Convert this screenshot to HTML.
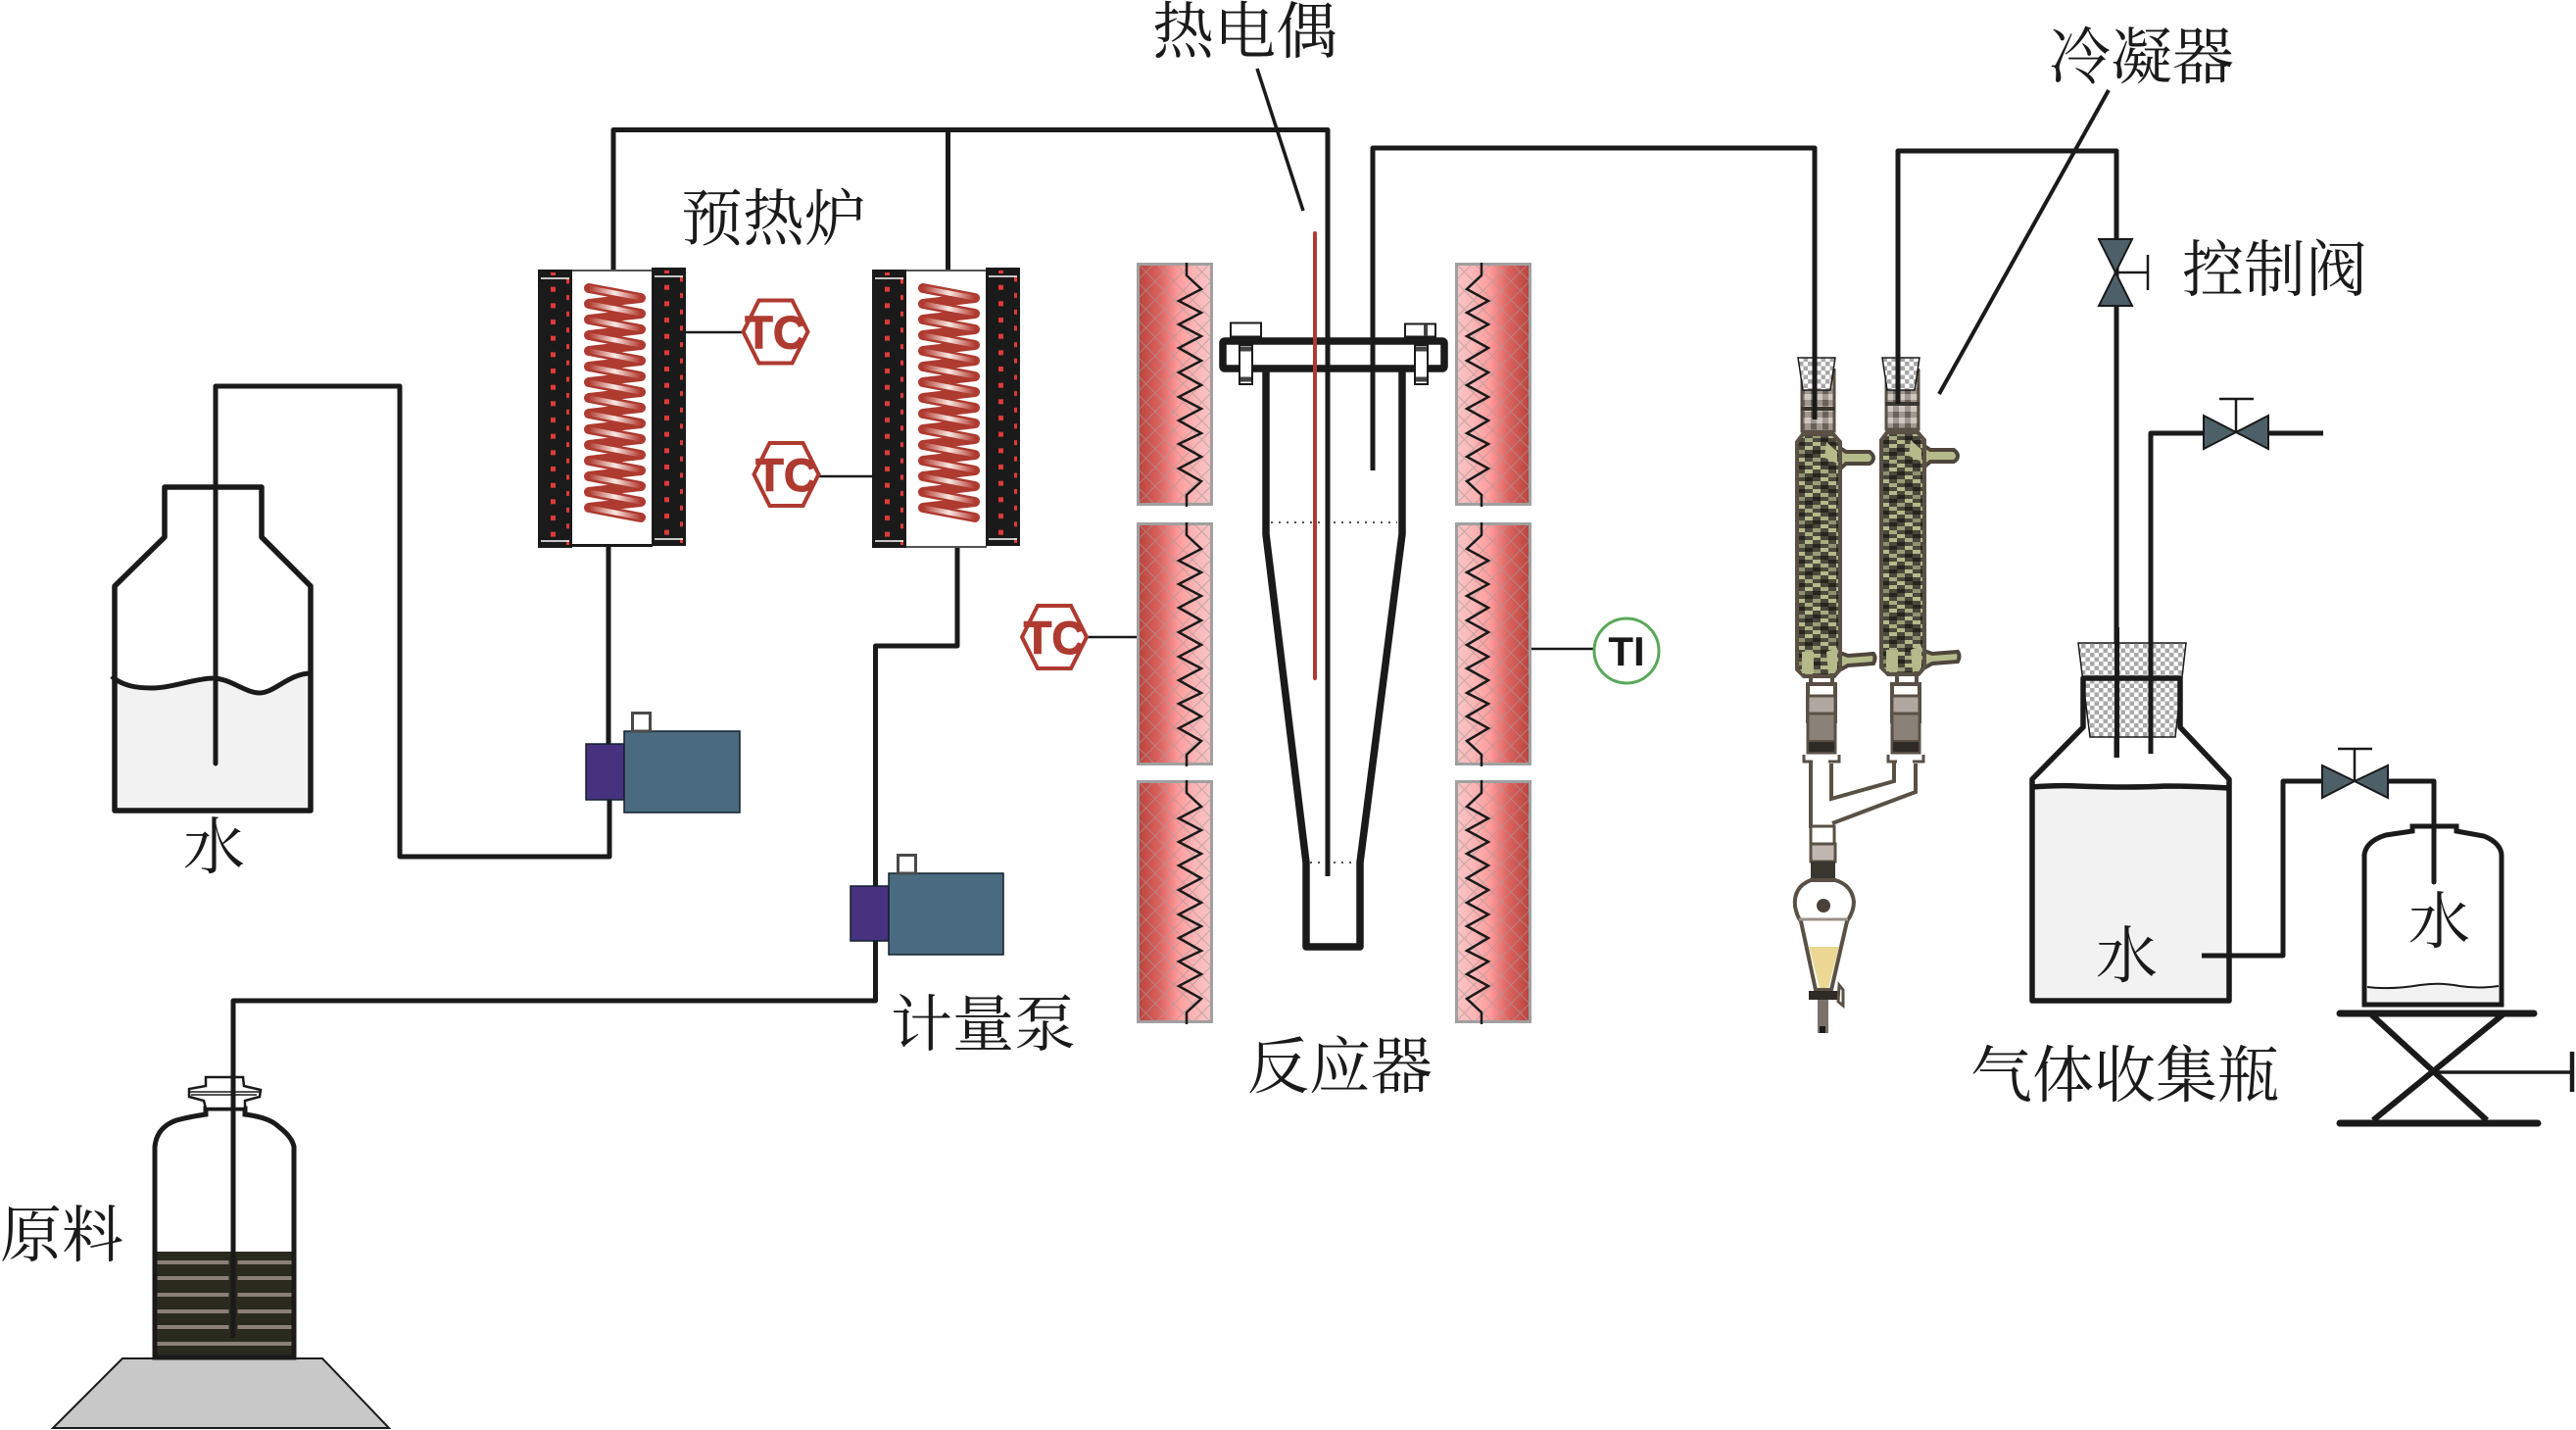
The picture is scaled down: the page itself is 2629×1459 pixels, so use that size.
<!DOCTYPE html>
<html lang="zh"><head><meta charset="utf-8"><title>Diagram</title>
<style>html,body{margin:0;padding:0;background:#fff}svg{display:block}
.l{font-family:"Liberation Serif","Noto Serif CJK SC",serif;font-size:63px;fill:#1a1a1a}
.tc{font-family:"Liberation Sans",sans-serif;font-weight:bold;font-size:47px;fill:#ae3a30;stroke:#ae3a30;stroke-width:1;text-anchor:middle}
</style></head><body>
<svg xmlns="http://www.w3.org/2000/svg" width="2629" height="1459" viewBox="0 0 2629 1459">
<defs>
<pattern id="dots" patternUnits="userSpaceOnUse" width="40" height="33.33">
<rect x="13" y="1" width="5" height="5" fill="#e03a3a"/><rect x="13" y="17.700" width="5" height="5" fill="#e03a3a"/>
<rect x="29" y="9.500" width="3" height="5" fill="#e03a3a"/><rect x="29" y="26" width="3" height="5" fill="#e03a3a"/>
</pattern>
<pattern id="check" patternUnits="userSpaceOnUse" width="9" height="9">
<rect width="9" height="9" fill="#fff"/><rect width="4.500" height="4.500" fill="#a8a8a8"/><rect x="4.500" y="4.500" width="4.500" height="4.500" fill="#a8a8a8"/>
</pattern>
<pattern id="cond" patternUnits="userSpaceOnUse" width="32" height="24">
<rect width="32" height="24" fill="#4a483c"/>
<rect x="0" y="0" width="8" height="4" fill="#b4ba8a"/><rect x="16" y="0" width="8" height="4" fill="#9a9e78"/>
<rect x="8" y="4" width="8" height="4" fill="#a8ac80"/><rect x="24" y="4" width="8" height="4" fill="#26261e"/>
<rect x="0" y="8" width="8" height="4" fill="#26261e"/><rect x="16" y="8" width="8" height="4" fill="#b4ba8a"/>
<rect x="8" y="12" width="8" height="4" fill="#b4ba8a"/><rect x="24" y="12" width="8" height="4" fill="#a8ac80"/>
<rect x="0" y="16" width="8" height="4" fill="#8e9270"/><rect x="16" y="16" width="8" height="4" fill="#26261e"/>
<rect x="8" y="20" width="8" height="4" fill="#26261e"/><rect x="24" y="20" width="8" height="4" fill="#b4ba8a"/>
</pattern>
<pattern id="jt" patternUnits="userSpaceOnUse" width="12" height="12">
<rect width="12" height="12" fill="#a09890"/><rect width="6" height="6" fill="#6a6258"/><rect x="6" y="6" width="6" height="6" fill="#cfc8c0"/>
</pattern>
<pattern id="hatch" patternUnits="userSpaceOnUse" width="19" height="19">
<path d="M0,0L19,19M19,0L0,19" stroke="#a89898" stroke-width="1" opacity=".65" fill="none"/>
</pattern>
<linearGradient id="hl"><stop offset="0" stop-color="#b8423c"/><stop offset=".3" stop-color="#dc6460"/><stop offset=".55" stop-color="#ff9c9c"/><stop offset=".8" stop-color="#fbb8b8"/><stop offset="1" stop-color="#f8c4c4"/></linearGradient>
<linearGradient id="hr"><stop offset="0" stop-color="#f8c4c4"/><stop offset=".2" stop-color="#fbb8b8"/><stop offset=".45" stop-color="#ff9c9c"/><stop offset=".7" stop-color="#dc6460"/><stop offset="1" stop-color="#b8423c"/></linearGradient>
<linearGradient id="coilg" gradientUnits="userSpaceOnUse" x1="0" y1="0" x2="53" y2="0"><stop offset="0" stop-color="#b03a30"/><stop offset=".5" stop-color="#fbe8e4"/><stop offset="1" stop-color="#b03a30"/></linearGradient>
<g id="coil" fill="none" stroke-linejoin="round" stroke-linecap="round">
<path stroke="#ae3a30" stroke-width="10" d="M0,0L53,10L0,16L53,26L0,32L53,42L0,48L53,58L0,64L53,74L0,80L53,90L0,96L53,106L0,112L53,122L0,128L53,138L0,144L53,154L0,160L53,170L0,176L53,186L0,192L53,202L0,208L53,218L0,224L53,234"/>
<path stroke="url(#coilg)" stroke-width="5" d="M0,0L53,10M0,16L53,26M0,32L53,42M0,48L53,58M0,64L53,74M0,80L53,90M0,96L53,106M0,112L53,122M0,128L53,138M0,144L53,154M0,160L53,170M0,176L53,186M0,192L53,202M0,208L53,218M0,224L53,234"/>
</g>
<g id="strip"><rect width="35" height="284" fill="#1a1a1a"/><rect y="3" width="35" height="278" fill="url(#dots)"/>
<path d="M3,9H32M3,277H32" stroke="#fff" stroke-width="1.500"/></g>
<g id="bl"><rect x="1.500" y="1.500" width="75" height="245" fill="url(#hl)" stroke="#a0a0a0" stroke-width="3"/><rect x="3" y="3" width="72" height="242" fill="url(#hatch)"/>
<polyline fill="none" stroke="#1a1a1a" stroke-width="2.500" points="51,0 51,13 66,27 43,39 66,51 43,63 66,75 43,87 66,100 43,112 66,125 43,137 66,149 43,161 66,174 43,185 66,198 43,210 66,223 51,237 51,249"/></g>
<g id="br"><rect x="1.500" y="1.500" width="75" height="245" fill="url(#hr)" stroke="#a0a0a0" stroke-width="3"/><rect x="3" y="3" width="72" height="242" fill="url(#hatch)"/>
<polyline fill="none" stroke="#1a1a1a" stroke-width="2.500" points="27,0 27,13 12,27 34,39 12,51 34,63 12,75 34,87 12,100 34,112 12,125 34,137 12,149 34,161 12,174 34,185 12,198 34,210 12,223 27,237 27,249"/></g>
<polygon id="hex" points="-33,0 -17,-32 17,-32 33,0 17,32 -17,32" fill="#fff" stroke="#ae3a30" stroke-width="4"/>
<g id="condb">
<path d="M41,12L50,18H74Q78,21 78,24Q78,28 74,30H50L41,38Z" fill="#b4ba8a" stroke="#4e463c" stroke-width="4"/>
<path d="M41,222L52,226L78,224Q81,228 78,234L52,236L41,242Z" fill="#b4ba8a" stroke="#4e463c" stroke-width="4"/>
<path d="M6,0H37L44,8V240L38,247H7L0,240V8Z" fill="url(#cond)" stroke="#5a5045" stroke-width="4"/>
<path d="M30,8L41,18L41,30L28,24Z" fill="#b4ba8a"/>
<path d="M30,222L41,218V240L32,245Z" fill="#b4ba8a"/>
<rect x="5" y="222" width="12" height="22" fill="#b4ba8a"/>
</g>
<g id="joint" stroke="#5a5045">
<rect x="0" y="-50" width="28" height="38" fill="#fff" stroke-width="4"/>
<rect x="0" y="-38" width="28" height="18" fill="#b0a8a0" stroke-width="3"/>
<rect x="0" y="-20" width="28" height="40" fill="#8a8278" stroke-width="3"/>
<rect x="0" y="8" width="28" height="12" fill="#2e2a26" stroke-width="2"/>
</g>
</defs>
<rect width="2629" height="1459" fill="#fff"/>

<!-- pipes -->
<g fill="none" stroke="#1a1a1a" stroke-width="5" stroke-linejoin="round">
<path d="M626,277V132.500H1355V894"/>
<path d="M967.500,132.500V277"/>
<path d="M1401,480V151H1852V428"/>
<path d="M1937,412V154H2160V773"/>
<path d="M2195,769V442H2250"/>
<path d="M2314,442H2371"/>
<path d="M220,779V394H408V874H622V811"/>
<path d="M621,556V760"/>
<path d="M977,556V659H893.500V904"/>
<path d="M893.500,958V1021H238V1363"/>
<path d="M2435,797H2484V900"/>
</g>
<path d="M1283,70L1330,215" stroke="#1a1a1a" stroke-width="3.500"/>
<path d="M2152,92L1979,402" stroke="#1a1a1a" stroke-width="4"/>

<!-- furnace 1 -->
<rect x="584" y="275" width="82" height="283" fill="#fff"/>
<path d="M584,276H666" stroke="#1a1a1a" stroke-width="1.500"/>
<path d="M584,556.500H666" stroke="#1a1a1a" stroke-width="3"/>
<use href="#strip" x="549" y="275"/><use href="#strip" x="665" y="273"/>
<use href="#coil" x="601" y="294"/>
<!-- furnace 2 -->
<rect x="925" y="275" width="82" height="284" fill="#fff"/>
<path d="M925,276H1007" stroke="#1a1a1a" stroke-width="1.500"/>
<path d="M925,558H1007" stroke="#1a1a1a" stroke-width="1.500"/>
<use href="#strip" x="890" y="275"/><use href="#strip" x="1006" y="273"/>
<use href="#coil" x="942" y="294"/>

<!-- TC / TI -->
<path d="M698,339H758M836,486H891M1109,650H1160M1562,662H1626" stroke="#1a1a1a" stroke-width="2.500"/>
<use href="#hex" x="791.500" y="338.500"/><text class="tc" x="791.500" y="355.500">TC</text>
<use href="#hex" x="802.500" y="484"/><text class="tc" x="802.500" y="501">TC</text>
<use href="#hex" x="1076" y="650"/><text class="tc" x="1076" y="667">TC</text>
<circle cx="1660" cy="664" r="33" fill="#fff" stroke="#5aa85a" stroke-width="3"/>
<text x="1660" y="679" text-anchor="middle" font-family="Liberation Sans,sans-serif" font-weight="bold" font-size="42" fill="#1a1a1a">TI</text>

<!-- heater blocks -->
<use href="#bl" x="1160" y="268"/><use href="#bl" x="1160" y="533"/><use href="#bl" x="1160" y="796"/>
<use href="#br" x="1485" y="268"/><use href="#br" x="1485" y="533"/><use href="#br" x="1485" y="796"/>

<!-- reactor -->
<path d="M1292,379V545L1333,880V966H1388V880L1431,545V379" fill="none" stroke="#1a1a1a" stroke-width="7.500" stroke-linejoin="round"/>
<path d="M1297,533H1426M1337,880H1384" stroke="#1a1a1a" stroke-width="1.500" stroke-dasharray="2 6"/>
<rect x="1248" y="348" width="226" height="28" rx="2" fill="#fff" stroke="#1a1a1a" stroke-width="7.500"/>
<path d="M1355,345V380" stroke="#1a1a1a" stroke-width="5"/><path d="M1401,345V380" stroke="#1a1a1a" stroke-width="5"/>
<g fill="#fff" stroke="#1a1a1a" stroke-width="2">
<rect x="1256" y="329.500" width="31" height="14"/><rect x="1434" y="330.500" width="31" height="13"/>
<rect x="1265" y="352" width="13" height="40"/><rect x="1444" y="352" width="13" height="40"/>
</g>
<path d="M1266,356H1277M1445,356H1456M1266,387H1277M1445,387H1456" stroke="#444" stroke-width="5"/>
<path d="M1455,331V343" stroke="#444" stroke-width="4"/>
<path d="M1342,238V692" stroke="#ae3a30" stroke-width="4" stroke-linecap="round"/>

<!-- pumps -->
<g stroke="#14202c" stroke-width="1.500">
<rect x="598" y="759" width="39" height="57" fill="#46327e"/>
<rect x="637" y="746" width="118" height="83" fill="#4a6a80"/>
<rect x="868" y="904" width="39" height="56" fill="#46327e"/>
<rect x="907" y="891" width="117" height="83" fill="#4a6a80"/>
</g>
<rect x="645.500" y="727.500" width="18" height="18.500" fill="#fff" stroke="#4a4a4a" stroke-width="3"/>
<rect x="916.500" y="872.500" width="18" height="18.500" fill="#fff" stroke="#4a4a4a" stroke-width="3"/>

<!-- water bottle -->
<path d="M114,690C125,700 140,702 155,702C175,702 200,692 217,692C235,692 250,707 265,707C280,707 295,687 317,687V825H117Z" fill="#f2f2f2"/>
<path d="M168,497H267V548L317,598V827H117V598L168,548Z" fill="none" stroke="#1a1a1a" stroke-width="5.500" stroke-linejoin="round"/>
<path d="M114,690C125,700 140,702 155,702C175,702 200,692 217,692C235,692 250,707 265,707C280,707 295,687 317,687" fill="none" stroke="#1a1a1a" stroke-width="5"/>
<path d="M220,497V779" stroke="#1a1a1a" stroke-width="5" stroke-linecap="round"/>

<!-- raw material -->
<polygon points="125,1386 329,1386 397,1457 54,1457" fill="#c8c8c8" stroke="#1a1a1a" stroke-width="2"/>
<rect x="158" y="1277" width="142" height="108" fill="#2a2a1e"/>
<g fill="#8a8078"><rect x="160" y="1286" width="138" height="4"/><rect x="160" y="1302" width="138" height="4"/><rect x="160" y="1319" width="138" height="4"/><rect x="160" y="1336" width="138" height="4"/><rect x="160" y="1352" width="138" height="4"/><rect x="160" y="1369" width="138" height="4"/></g>
<path d="M238,1277V1363" stroke="#2a2a1e" stroke-width="9"/>
<path d="M158,1385V1170Q160,1150 180,1143Q195,1139 210,1137V1131H250V1137Q275,1140 285,1150Q298,1160 300,1170V1385Z" fill="none" stroke="#1a1a1a" stroke-width="5"/>
<path d="M210,1099H248L249,1108L266,1112L265,1119L250,1123V1131H210L208,1123L193,1119L193,1111L210,1108Z" fill="#fff" stroke="#1a1a1a" stroke-width="2.500"/>
<path d="M193,1114H266M195,1117H262" stroke="#1a1a1a" stroke-width="1.500"/>
<path d="M238,1060V1363" stroke="#1a1a1a" stroke-width="5" stroke-linecap="round"/>

<!-- condensers -->
<rect x="1839" y="378" width="33" height="62" fill="url(#jt)" stroke="#5a5045" stroke-width="3"/>
<rect x="1925" y="378" width="33" height="60" fill="url(#jt)" stroke="#5a5045" stroke-width="3"/>
<path d="M1838,378H1873M1838,417H1873M1924,378H1959M1924,412H1959" stroke="#3a3630" stroke-width="4"/>
<use href="#condb" x="1834" y="443"/><use href="#condb" x="1920" y="441"/>
<polygon points="1835,365 1873,365 1868,398 1840,398" fill="url(#check)" stroke="#1a1a1a" stroke-width="1.500"/>
<polygon points="1921,365 1959,365 1954,398 1926,398" fill="url(#check)" stroke="#1a1a1a" stroke-width="1.500"/>
<path d="M1852,340V428M1937,340V412" stroke="#1a1a1a" stroke-width="5"/>
<path d="M1848,690V712M1870,690V712M1936,690V712M1956,690V712" stroke="#5a5045" stroke-width="4"/>
<use href="#joint" x="1845" y="748"/><use href="#joint" x="1931" y="748"/>
<path d="M1848,778V845M1869,779V815L1933,797V778M1955,779V808L1870,840" fill="none" stroke="#5a5045" stroke-width="4"/>
<path d="M1841,770V777H1850M1866,777H1877V770M1927,770V777H1936M1952,777H1963V770" fill="none" stroke="#5a5045" stroke-width="3"/>
<rect x="1848" y="843" width="24" height="18" fill="#fff" stroke="#5a5045" stroke-width="3"/>
<rect x="1848" y="861" width="25" height="18" fill="#c0b8b0" stroke="#5a5045" stroke-width="3"/>
<rect x="1848" y="879" width="25" height="18" fill="#3a3630"/>
<path d="M1848,898Q1830,905 1832,925Q1834,935 1838,940L1853,1010H1869L1885,940Q1892,930 1892,920Q1890,903 1873,898Z" fill="#fff" stroke="#5a5045" stroke-width="4"/>
<path d="M1836,938H1886" stroke="#9a9088" stroke-width="3"/>
<polygon points="1846,966 1877,966 1866,1008 1857,1008" fill="#ecd894"/>
<circle cx="1861" cy="924" r="7" fill="#4a4038"/>
<rect x="1846" y="1011" width="32" height="9" fill="#2e2a26"/>
<path d="M1877,1005L1881,1010V1026L1876,1022Z" fill="#fff" stroke="#5a5045" stroke-width="3"/>
<rect x="1855" y="1020" width="11" height="34" fill="#7a7268"/>
<rect x="1857" y="1047" width="6" height="7" fill="#1a1a1a"/>

<!-- gas collection bottle -->
<path d="M2076,803Q2100,801 2120,802Q2175,804 2210,802Q2240,802 2273,804V1019H2076Z" fill="#f2f2f2"/>
<polygon points="2121,656 2231,656 2220,752 2133,752" fill="url(#check)" stroke="#1a1a1a" stroke-width="1.500"/>
<path d="M2126,742V692H2225V742L2275,795V1021H2074V795Z" fill="none" stroke="#1a1a1a" stroke-width="5.500" stroke-linejoin="round"/>
<path d="M2074,803Q2100,801 2120,802Q2175,804 2210,802Q2240,802 2275,804" fill="none" stroke="#1a1a1a" stroke-width="5.500"/>
<path d="M2160.500,640V773M2195,640V769" stroke="#1a1a1a" stroke-width="5"/>
<path d="M2247,975H2330V797H2372" fill="none" stroke="#1a1a1a" stroke-width="5" stroke-linejoin="round"/>

<!-- valves -->
<g fill="#4d6068" stroke="#1a1a1a" stroke-width="2">
<polygon points="2142,244 2176,244 2159,278"/><polygon points="2142,312 2176,312 2159,278"/>
<polygon points="2249,424 2249,458 2282,441"/><polygon points="2315,424 2315,458 2282,441"/>
<polygon points="2370,781 2370,814 2403,797"/><polygon points="2437,781 2437,814 2403,797"/>
</g>
<path d="M2160,278H2192M2192,260V296M2282,441V407M2265,407H2300M2403,797V764M2386,764H2421" fill="none" stroke="#1a1a1a" stroke-width="2.500"/>

<!-- small bottle -->
<path d="M2416,1007Q2440,1010 2470,1005Q2490,1002 2510,1006Q2530,1009 2550,1006V1023H2416Z" fill="#f2f2f2"/>
<path d="M2416,1007Q2440,1010 2470,1005Q2490,1002 2510,1006Q2530,1009 2550,1006" fill="none" stroke="#1a1a1a" stroke-width="2"/>
<path d="M2413,1025V872Q2415,858 2435,852L2462,848V843H2507V848L2535,853Q2552,860 2553,872V1025Z" fill="none" stroke="#1a1a1a" stroke-width="5"/>
<path d="M2484,843V900" stroke="#1a1a1a" stroke-width="5" stroke-linecap="round"/>
<!-- lift table -->
<g stroke="#1a1a1a" fill="none">
<path d="M2388,1034H2586M2388,1146H2590" stroke-width="7" stroke-linecap="round"/>
<path d="M2420,1035L2538,1143M2557,1033L2422,1143" stroke-width="6"/>
<path d="M2484,1094H2625" stroke-width="3.500"/>
<path d="M2625,1073V1114" stroke-width="4.500"/>
</g>

<!-- labels -->
<text class="l" x="1176" y="54">热电偶</text>
<text class="l" x="2091" y="80">冷凝器</text>
<text class="l" x="695" y="245">预热炉</text>
<text class="l" x="2227" y="297">控制阀</text>
<text class="l" x="909" y="1067">计量泵</text>
<text class="l" x="1273" y="1110">反应器</text>
<text class="l" x="2011" y="1119">气体收集瓶</text>
<text class="l" x="187" y="886">水</text>
<text class="l" x="2139" y="997">水</text>
<text class="l" x="2458" y="962">水</text>
<text class="l" x="0" y="1282">原料</text>
</svg>
</body></html>
